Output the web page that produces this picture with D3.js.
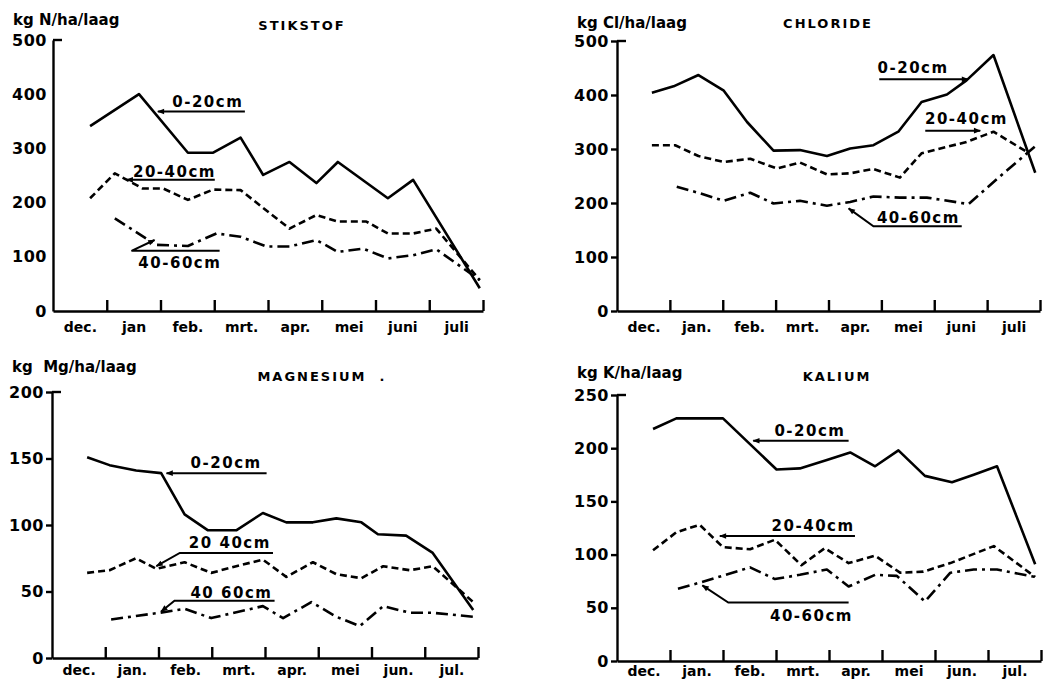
<!DOCTYPE html>
<html>
<head>
<meta charset="utf-8">
<script src="https://cdn.jsdelivr.net/npm/d3@7"></script>
<style>
body { margin: 0; background: #fff; }
svg { display: block; }
text { font-family: "DejaVu Sans", sans-serif; fill: #000; }
</style>
</head>
<body>
<svg id="chart" width="1051" height="683"></svg>
<script>
// month labels (x axis) per panel
var monthsN = ["dec.", "jan", "feb.", "mrt.", "apr.", "mei", "juni", "juli"];
var monthsCl = ["dec.", "jan.", "feb.", "mrt.", "apr.", "mei", "juni", "juli"];
var monthsMg = ["dec.", "jan.", "feb.", "mrt.", "apr.", "mei", "jun.", "jul."];
var monthsK = ["dec.", "jan.", "feb.", "mrt.", "apr.", "mei", "jun.", "jul."];

// y tick values
var ticksN = [0, 100, 200, 300, 400, 500];
var ticksCl = [0, 100, 200, 300, 400, 500];
var ticksMg = [0, 50, 100, 150, 200];
var ticksK = [0, 50, 100, 150, 200, 250];

// series: [months since start of dec., kg/ha/laag]
var N_0_20 = [[0.69, 341], [1.60, 400], [2.51, 292], [2.98, 292], [3.49, 320], [3.91, 251], [4.40, 275], [4.90, 236], [5.30, 275], [6.23, 208], [6.70, 242], [7.94, 42]];
var N_20_40 = [[0.69, 208], [1.15, 254], [1.67, 226], [2.05, 226], [2.51, 205], [2.98, 224], [3.49, 223], [4.40, 152], [4.90, 177], [5.30, 165], [5.83, 165], [6.23, 143], [6.70, 143], [7.13, 152], [7.94, 57]];
var N_40_60 = [[1.15, 171], [1.92, 122], [2.51, 120], [3.04, 143], [3.49, 137], [3.97, 119], [4.40, 119], [4.90, 131], [5.30, 109], [5.77, 115], [6.23, 97], [6.70, 103], [7.13, 114], [7.94, 57]];

var Cl_0_20 = [[0.66, 404], [1.07, 416], [1.54, 437], [2.02, 408], [2.46, 350], [2.96, 297], [3.46, 298], [3.97, 287], [4.41, 301], [4.85, 307], [5.32, 332], [5.76, 387], [6.24, 401], [6.61, 427], [7.12, 474], [7.91, 256]];
var Cl_20_40 = [[0.66, 307], [1.10, 307], [1.54, 287], [2.02, 276], [2.52, 282], [3.02, 264], [3.46, 275], [3.97, 253], [4.41, 255], [4.85, 263], [5.35, 247], [5.76, 292], [6.24, 304], [6.61, 313], [7.12, 332], [7.78, 293]];
var Cl_40_60 = [[1.13, 230], [1.57, 218], [2.02, 204], [2.52, 219], [2.96, 199], [3.46, 204], [3.97, 195], [4.41, 202], [4.85, 212], [5.35, 210], [5.86, 210], [6.65, 198], [7.24, 249], [7.97, 310]];

var Mg_0_20 = [[0.66, 151], [1.08, 145], [1.58, 141], [2.05, 139], [2.49, 108], [2.93, 96], [3.46, 96], [3.96, 109], [4.40, 102], [4.90, 102], [5.34, 105], [5.81, 102], [6.12, 93], [6.65, 92], [7.15, 79], [7.91, 36]];
var Mg_20_40 = [[0.66, 64], [1.08, 66], [1.58, 75], [1.96, 67], [2.49, 72], [2.99, 64], [3.46, 69], [3.96, 74], [4.40, 61], [4.90, 72], [5.34, 63], [5.81, 60], [6.22, 69], [6.72, 66], [7.15, 69], [7.91, 42]];
var Mg_40_60 = [[1.11, 29], [2.02, 34], [2.49, 37], [2.99, 30], [3.96, 39], [4.34, 30], [4.87, 42], [5.34, 31], [5.78, 24], [6.22, 39], [6.72, 34], [7.15, 34], [7.91, 31]];

var K_0_20 = [[0.68, 218], [1.12, 228], [2.00, 228], [3.01, 180], [3.45, 181], [3.96, 189], [4.40, 196], [4.87, 183], [5.31, 198], [5.81, 174], [6.32, 168], [6.73, 175], [7.17, 183], [7.89, 91]];
var K_20_40 = [[0.68, 104], [1.12, 121], [1.56, 128], [2.00, 107], [2.51, 105], [2.98, 114], [3.48, 90], [3.92, 106], [4.37, 92], [4.87, 99], [5.34, 83], [5.78, 84], [6.29, 92], [7.11, 108], [7.89, 79]];
var K_40_60 = [[1.15, 68], [1.59, 74], [2.51, 88], [2.98, 77], [3.45, 81], [3.96, 86], [4.37, 70], [4.87, 81], [5.28, 80], [5.81, 56], [6.29, 83], [6.73, 86], [7.17, 86], [7.89, 79]];

var svg = d3.select("#chart");

// arrow head for the label leaders
svg.append("defs").append("marker")
    .attr("id", "arrow")
    .attr("viewBox", "0 0 10 10")
    .attr("refX", 9).attr("refY", 5)
    .attr("markerWidth", 10).attr("markerHeight", 7)
    .attr("markerUnits", "userSpaceOnUse")
    .attr("orient", "auto")
    .append("path")
    .attr("d", "M0,1 L10,5 L0,9 Z")
    .attr("fill", "#000");

var styles = {
    solid: null,
    dash: "7,4",
    dashdot: "12,5,3,5"
};

var panels = [
    {
        months: monthsN, ticks: ticksN, max: 500, yTicks: 0, monthPad: 11,
        left: 53, right: 483, top: 40, bottom: 311,
        unit: "kg N/ha/laag", unitX: 13, unitY: 25,
        title: "STIKSTOF", titleX: 302, titleY: 30,
        series: [[N_0_20, "solid"], [N_20_40, "dash"], [N_40_60, "dashdot"]],
        notes: [
            { text: "0-20cm", at: [2.88, 377], path: [[3.57, 368], [1.95, 368]] },
            { text: "20-40cm", at: [2.26, 248], path: [[3.01, 242], [1.37, 242]] },
            { text: "40-60cm", at: [2.36, 79], path: [[3.10, 111], [1.46, 111], [1.89, 131]] }
        ]
    },
    {
        months: monthsCl, ticks: ticksCl, max: 500, yTicks: 6, monthPad: 11,
        left: 617, right: 1040, top: 41, bottom: 311,
        unit: "kg Cl/ha/laag", unitX: 577, unitY: 28,
        title: "CHLORIDE", titleX: 828, titleY: 28,
        series: [[Cl_0_20, "solid"], [Cl_20_40, "dash"], [Cl_40_60, "dashdot"]],
        notes: [
            { text: "0-20cm", at: [5.60, 440], path: [[4.96, 429], [6.64, 429]] },
            { text: "20-40cm", at: [6.61, 347], path: [[5.83, 334], [6.87, 334]] },
            { text: "40-60cm", at: [5.70, 163], path: [[6.52, 157], [4.85, 157], [4.38, 190]] }
        ]
    },
    {
        months: monthsMg, ticks: ticksMg, max: 200, yTicks: 6, monthPad: 7,
        left: 52, right: 478, top: 392, bottom: 658,
        unit: "kg  Mg/ha/laag", unitX: 12, unitY: 372,
        title: "MAGNESIUM  .", titleX: 322, titleY: 381,
        series: [[Mg_0_20, "solid"], [Mg_20_40, "dash"], [Mg_40_60, "dashdot"]],
        notes: [
            { text: "0-20cm", at: [3.27, 142.5], path: [[4.03, 139], [2.15, 139]] },
            { text: "20 40cm", at: [3.34, 82.5], path: [[4.15, 79], [2.40, 79], [1.96, 69]] },
            { text: "40 60cm", at: [3.37, 45], path: [[4.18, 43], [2.30, 43], [2.05, 35]] }
        ]
    },
    {
        months: monthsK, ticks: ticksK, max: 250, yTicks: 6, monthPad: 5,
        left: 617, right: 1041, top: 395, bottom: 661,
        unit: "kg K/ha/laag", unitX: 577, unitY: 378,
        title: "KALIUM", titleX: 837, titleY: 381,
        series: [[K_0_20, "solid"], [K_20_40, "dash"], [K_40_60, "dashdot"]],
        notes: [
            { text: "0-20cm", at: [3.64, 211], path: [[4.37, 207], [2.57, 207]] },
            { text: "20-40cm", at: [3.70, 122.5], path: [[4.49, 117.5], [1.94, 117.5]] },
            { text: "40-60cm", at: [3.67, 38], path: [[4.37, 55], [2.10, 55], [1.61, 71]] }
        ]
    }
];

function drawPanel(p) {
    var x = d3.scaleLinear().domain([0, 8]).range([p.left, p.right]);
    var y = d3.scaleLinear().domain([0, p.max]).range([p.bottom, p.top]);
    var g = svg.append("g");

    // x axis: month boundaries as inward ticks
    var xAxis = g.append("g")
        .attr("transform", "translate(0," + p.bottom + ")")
        .call(d3.axisBottom(x).tickValues(d3.range(1, 9)).tickSize(-11).tickSizeOuter(0).tickFormat(""));
    xAxis.selectAll("path, line").attr("stroke", "#000").attr("stroke-width", 2.4);

    // month names centred between the ticks
    var xLab = g.append("g")
        .attr("transform", "translate(0," + p.bottom + ")")
        .call(d3.axisBottom(x).tickValues(d3.range(0, 8).map(function (i) { return i + 0.5; }))
            .tickSize(0).tickPadding(p.monthPad)
            .tickFormat(function (d) { return p.months[Math.floor(d)]; }));
    xLab.select(".domain").remove();
    xLab.selectAll("text")
        .style("font-family", "DejaVu Sans")
        .attr("font-size", "14px")
        .attr("font-weight", "bold")
        .attr("fill", "#000");

    // y axis
    var yAxis = g.append("g")
        .attr("transform", "translate(" + p.left + ",0)")
        .call(d3.axisLeft(y).tickValues(p.ticks).tickSize(p.yTicks).tickSizeOuter(0).tickPadding(p.yTicks ? 2 : 6));
    yAxis.selectAll("path, line").attr("stroke", "#000").attr("stroke-width", 2.4);
    yAxis.selectAll("text")
        .style("font-family", "DejaVu Sans")
        .attr("font-size", "16px")
        .attr("font-weight", "bold")
        .attr("letter-spacing", "0.5px")
        .attr("fill", "#000");

    // short tick to the right at the top of the y axis
    g.append("line")
        .attr("x1", p.left).attr("x2", p.left + 9)
        .attr("y1", y(p.max)).attr("y2", y(p.max))
        .attr("stroke", "#000").attr("stroke-width", 2.4);

    g.append("text")
        .attr("x", p.unitX).attr("y", p.unitY)
        .attr("font-size", "15px")
        .attr("font-weight", "bold")
        .attr("xml:space", "preserve")
        .text(p.unit);

    g.append("text")
        .attr("x", p.titleX).attr("y", p.titleY)
        .attr("text-anchor", "middle")
        .attr("font-size", "13px")
        .attr("font-weight", "bold")
        .attr("letter-spacing", "2px")
        .attr("xml:space", "preserve")
        .text(p.title);

    var line = d3.line()
        .x(function (d) { return x(d[0]); })
        .y(function (d) { return y(d[1]); });

    p.series.forEach(function (s) {
        g.append("path")
            .datum(s[0])
            .attr("d", line)
            .attr("fill", "none")
            .attr("stroke", "#000")
            .attr("stroke-width", 2.6)
            .attr("stroke-linejoin", "round")
            .attr("stroke-dasharray", styles[s[1]]);
    });

    // depth labels with leader arrows
    p.notes.forEach(function (n) {
        g.append("text")
            .attr("x", x(n.at[0])).attr("y", y(n.at[1]))
            .attr("text-anchor", "middle")
            .attr("font-size", "15px")
            .attr("font-weight", "bold")
            .attr("letter-spacing", "1.5px")
            .attr("xml:space", "preserve")
            .text(n.text);
        g.append("path")
            .datum(n.path)
            .attr("d", line)
            .attr("fill", "none")
            .attr("stroke", "#000")
            .attr("stroke-width", 2)
            .attr("marker-end", "url(#arrow)");
    });
}

panels.forEach(drawPanel);
</script>
</body>
</html>
